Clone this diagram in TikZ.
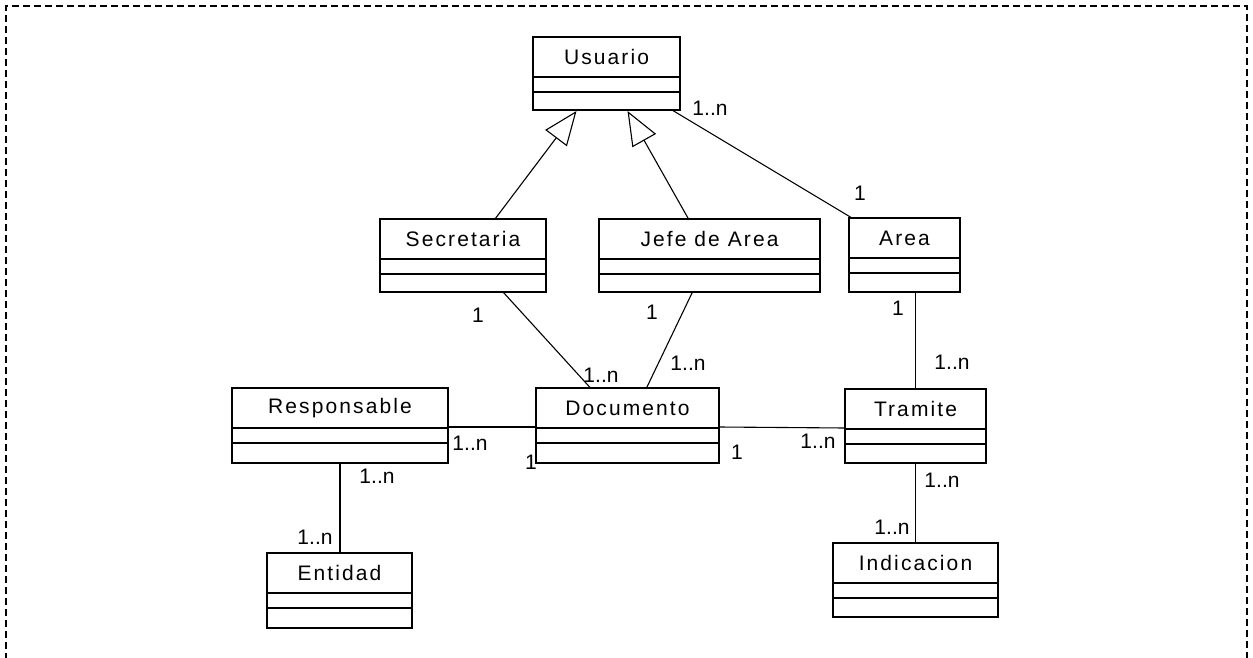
\documentclass[tikz,border=0pt]{standalone}
\usepackage{fontspec}
\setmainfont{Liberation Sans}
\newfontfamily\clsfont[LetterSpace=10]{Liberation Sans}
\usetikzlibrary{arrows.meta,calc,fit}

\tikzset{
  cls/.style={draw=black, line width=1.1pt, inner sep=0pt, outer sep=0pt, fill=none},
  clsname/.style={inner sep=0pt, font=\clsfont\fontsize{21}{24}\selectfont},
  mult/.style={inner sep=0pt, font=\fontsize{21}{24}\selectfont},
  link/.style={draw=black, line width=1.1pt},
  inherit/.style={link, -{Triangle[open, length=34pt, width=27pt, line width=1.1pt]}},
  frame/.style={draw=black, line width=1.4pt, dash pattern=on 7pt off 4pt}
}

% one UML class: name, left, top, right, bottom, title
\newcommand\umlclass[6]{%
  \path (#2,#3) coordinate (#1-nw) (#4,#5) coordinate (#1-se);
  \node[cls, fit=(#1-nw)(#1-se)] (#1) {};
  \node[clsname] (#1-title) at ($(#1.north)+(0,20)$) {#6};
  \draw[cls] ($(#1.north west)+(0,40)$) -- ($(#1.north east)+(0,40)$);
  \draw[cls] ($(#1.north west)+(0,55)$) -- ($(#1.north east)+(0,55)$);
}

\begin{document}
\begin{tikzpicture}[x=1pt, y=-1pt]
\useasboundingbox (0,0) rectangle (1253,658);

% open frame round the diagram
\coordinate (fbl) at (6,660);
\coordinate (ftl) at (6,6);
\coordinate (ftr) at (1247,6);
\coordinate (fbr) at (1247,660);
\draw[frame] (fbl) -- (ftl) -- (ftr) -- (fbr);

% classes
\umlclass{usuario}{533}{37}{680}{110}{Usuario}
\umlclass{secretaria}{380}{219}{546}{292}{Secretaria}
\umlclass{jefe}{599}{219}{820}{292}{Jefe de Area}
\umlclass{area}{849}{218}{960}{292}{Area}
\umlclass{responsable}{232}{388}{448}{463}{Responsable}
\umlclass{documento}{536}{388}{719}{463}{Documento}
\umlclass{tramite}{845}{389}{986}{463}{Tramite}
\umlclass{entidad}{267}{553}{412}{628}{Entidad}
\umlclass{indicacion}{833}{543}{998}{617}{Indicacion}

% generalizations
\draw[inherit] ($(secretaria.north)+(32,0)$) -- ($(usuario.south)+(-30,1)$);
\draw[inherit] ($(jefe.north)+(-21,0)$) -- ($(usuario.south)+(21,1)$);

% associations
\draw[link] ($(usuario.south east)+(-8,0)$) -- ($(area.north west)+(3,0)$);
\draw[link] ($(secretaria.south)+(40,0)$) -- ($(documento.north)+(-37,0)$);
\draw[link] ($(jefe.south)+(-17,0)$) -- ($(documento.north)+(19,0)$);
\draw[link] (tramite.north) -- (tramite.north |- area.south);
\draw[link] ($(responsable.north east)+(0,39)$) -- ($(documento.north west)+(0,39)$);
\draw[link] ($(documento.north east)+(0,39)$) -- ($(tramite.north west)+(0,39)$);
\draw[link] (responsable.south) -- (responsable.south |- entidad.north);
\draw[link] (tramite.south) -- (tramite.south |- indicacion.north);

% multiplicities
\node[mult] (m1) at (710,108) {1..n};
\node[mult] (m2) at (860,193) {1};
\node[mult] (m3) at (478,315) {1};
\node[mult] (m4) at (601,375) {1..n};
\node[mult] (m5) at (652,312) {1};
\node[mult] (m6) at (688,363) {1..n};
\node[mult] (m7) at (898,308) {1};
\node[mult] (m8) at (952,362) {1..n};
\node[mult] (m9) at (470,443) {1..n};
\node[mult] (m10) at (531,462) {1};
\node[mult] (m11) at (737,452) {1};
\node[mult] (m12) at (818,441) {1..n};
\node[mult] (m13) at (377,476) {1..n};
\node[mult] (m14) at (315,537) {1..n};
\node[mult] (m15) at (942,480) {1..n};
\node[mult] (m16) at (892,527) {1..n};
\end{tikzpicture}
\end{document}
